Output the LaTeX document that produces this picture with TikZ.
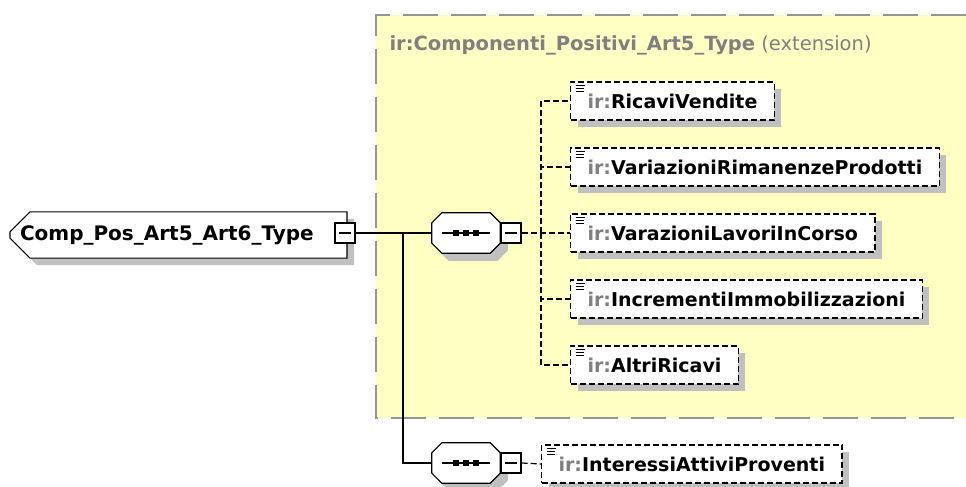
\documentclass[tikz,border=0pt]{standalone}
\usepackage{fontspec}
\setmainfont{DejaVu Sans}
\usetikzlibrary{shapes.misc,shadows,calc}
\definecolor{note}{RGB}{255,255,196}
\definecolor{frame}{RGB}{150,150,150}
\definecolor{shade}{RGB}{192,192,192}
\definecolor{prefix}{RGB}{128,128,128}
\newcommand{\irp}{\textcolor{prefix}{ir:}}
\tikzset{
  x=1pt,y=-1pt,
  shade box/.style={drop shadow={shadow xshift=7pt,shadow yshift=-7pt,fill=shade,opacity=1}},
  elem/.style={draw,dash pattern=on 6pt off 3pt,line width=1.2pt,fill=white,
    minimum height=38pt,inner xsep=17pt,anchor=west,shade box,
    font=\fontsize{19pt}{21pt}\selectfont\bfseries,
    path picture={
      \foreach \d/\l in {3/9,6/8,9/8}
        \draw[solid,line width=1pt] ([shift={(5,\d)}]path picture bounding box.north west) -- ++(\l,0);
    }},
  root/.style={chamfered rectangle,chamfered rectangle sep=10pt,
    chamfered rectangle corners={north west,south west},draw,line width=1.2pt,fill=white,
    minimum width=337pt,minimum height=44pt,inner xsep=0pt,shade box,
    font=\fontsize{20pt}{22pt}\selectfont\bfseries},
  seqbox/.style={minimum width=68pt,minimum height=40pt,inner sep=0pt},
  minus/.style={draw,fill=white,line width=1.2pt,minimum size=20pt,inner sep=0pt,
    path picture={
      \draw[line width=1.2pt] ([xshift=-6pt]path picture bounding box.center)
        -- ([xshift=6pt]path picture bounding box.center);
    }},
  link/.style={line width=1.2pt},
  dlink/.style={line width=1.2pt,dash pattern=on 6pt off 3pt},
}

\begin{document}
\begin{tikzpicture}
  \useasboundingbox (0,0) rectangle (966,487);
  % extension area
  \fill[note] (376,15) rectangle (966,418);
  \draw[frame,line width=1.8pt,dash pattern=on 35pt off 13pt]
    (966,15) -- (376,15) -- (376,418) -- (966,418);
  \node[anchor=west,text=prefix,font=\fontsize{19.5pt}{21pt}\selectfont] (title) at (386,45)
    {\textbf{ir:Componenti\_Positivi\_Art5\_Type} (extension)};

  \node[root] (comp) at (178.5,235) {\makebox[317pt][l]{Comp\_Pos\_Art5\_Art6\_Type}};
  \node[minus] (compm) at (345,233) {};

  \node[seqbox] (seqa) at (466,233) {};
  \node[seqbox] (seqb) at (466,463) {};
  % sequence octagons
  \foreach \q in {seqa,seqb}{
    \foreach \o/\f/\c in {7/shade/shade,0/white/black}
      \filldraw[fill=\f,draw=\c,line width=1.2pt,
        transform canvas={shift={(\o pt,-\o pt)}}]
        ([xshift=10pt]\q.north west) -- ([xshift=-10pt]\q.north east)
        -- ([yshift=-10pt]\q.north east) -- ([yshift=10pt]\q.south east)
        -- ([xshift=-10pt]\q.south east) -- ([xshift=10pt]\q.south west)
        -- ([yshift=10pt]\q.south west) -- ([yshift=-10pt]\q.north west) -- cycle;
    \draw[line width=1.2pt] ($(\q.center)+(-24,0)$) -- ($(\q.center)+(24,0)$);
    \foreach \s in {-10,0,10}
      \fill ($(\q.center)+(\s,0)$) +(-3,-3) rectangle +(3,3);
  }
  \node[minus] (seqam) at (511,233) {};
  \node[minus] (seqbm) at (511,463) {};

  \node[elem] (ricavi) at (570,101) {\irp RicaviVendite};
  \node[elem] (rimanenze) at (570,167) {\irp VariazioniRimanenzeProdotti};
  \node[elem] (lavori) at (570,233) {\irp VarazioniLavoriInCorso};
  \node[elem] (incrementi) at (570,299) {\irp IncrementiImmobilizzazioni};
  \node[elem] (altri) at (570,365) {\irp AltriRicavi};
  \node[elem] (interessi) at (541,464) {\irp InteressiAttiviProventi};

  % connectors
  \coordinate (trunk) at (403,233);
  \coordinate (dtrunk) at (541,233);
  \draw[link] (compm.east) -- (seqa.west);
  \draw[link] (trunk) |- (seqb.west);
  \draw[dlink] (seqam.east) -- (lavori.west);
  \foreach \e in {ricavi,rimanenze,incrementi,altri}
    \draw[dlink] (dtrunk) |- (\e.west);
  \draw[dlink] (seqbm.east) -- (interessi.west);
\end{tikzpicture}
\end{document}
